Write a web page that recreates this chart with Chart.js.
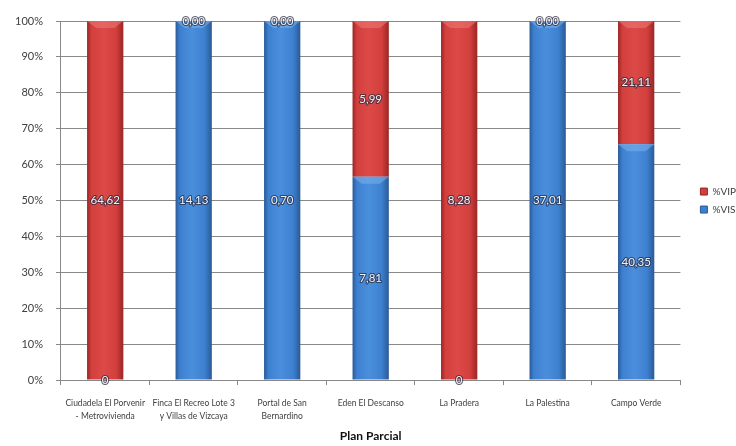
<!DOCTYPE html>
<html><head><meta charset="utf-8">
<script src="https://cdn.jsdelivr.net/npm/chart.js@4"></script>
<style>html,body{margin:0;padding:0;background:#fff}#wrap{width:736px;height:446px;position:relative}</style>
</head><body><div id="wrap"><canvas id="c"></canvas></div>
<script>
const categories = [["Ciudadela El Porvenir","- Metrovivienda"],["Finca El Recreo Lote 3","y Villas de Vizcaya"],["Portal de San","Bernardino"],"Eden El Descanso","La Pradera","La Palestina","Campo Verde"];
const visValues = [0, 14.13, 0.70, 7.81, 0, 37.01, 40.35];
const vipValues = [64.62, 0, 0, 5.99, 8.28, 0, 21.11];
const visText = ["0","14,13","0,70","7,81","0","37,01","40,35"];
const vipText = ["64,62","0,00","0,00","5,99","8,28","0,00","21,11"];
const seriesNames = ["%VIS","%VIP"];
const axisTitle = "Plan Parcial";

const visPct = visValues.map((v,i)=> v/(v+vipValues[i])*100);
const vipPct = vipValues.map((v,i)=> v/(visValues[i]+v)*100);

const FONT = "Lato, 'Open Sans', sans-serif";
const BAR_PCT = 0.41;
const palette = {
  "%VIS": {edge:"#2a5a96", mid:"#3d80d0", hi:"#4a8fdc", light:"#7ab3ee"},
  "%VIP": {edge:"#9a2624", mid:"#d23f3d", hi:"#dc4a47", light:"#ee7a76"}
};

function barFill(ctx){
  const chart = ctx.chart;
  const p = palette[ctx.dataset.label];
  const xs = chart.scales.x;
  if (!chart.chartArea || !xs || ctx.dataIndex === undefined) return p.mid;
  const cx = xs.getPixelForValue(ctx.dataIndex);
  const w = chart.chartArea.width / categories.length * BAR_PCT;
  if (!isFinite(cx) || !isFinite(w)) return p.mid;
  const l = cx - w/2;
  const g = chart.ctx.createLinearGradient(l,0,l+w,0);
  g.addColorStop(0,p.edge); g.addColorStop(0.12,p.mid); g.addColorStop(0.45,p.hi); g.addColorStop(0.8,p.mid); g.addColorStop(1,p.edge);
  return g;
}

const bevelPlugin = {
  id:"bevel",
  afterDatasetsDraw(chart){
    const ctx = chart.ctx;
    chart.data.datasets.forEach((ds,di)=>{
      const meta = chart.getDatasetMeta(di);
      const p = palette[ds.label];
      meta.data.forEach(el=>{
        const h = Math.abs(el.base - el.y);
        if (h < 10) return;
        const w = el.width, l = el.x - w/2, t = Math.min(el.y, el.base);
        ctx.save();
        ctx.fillStyle = p.light; ctx.globalAlpha = 0.55;
        ctx.beginPath();
        ctx.moveTo(l,t); ctx.lineTo(l+w,t); ctx.lineTo(l+w-9,t+7); ctx.lineTo(l+9,t+7); ctx.closePath();
        ctx.fill();
        ctx.restore();
      });
    });
  }
};

const labelPlugin = {
  id:"vals",
  afterDatasetsDraw(chart){
    const ctx = chart.ctx;
    const texts = [visText, vipText];
    chart.data.datasets.forEach((ds,di)=>{
      const meta = chart.getDatasetMeta(di);
      meta.data.forEach((el,i)=>{
        const cy = (el.y + el.base)/2;
        ctx.save();
        ctx.font = "11.5px " + FONT;
        ctx.textAlign = "center"; ctx.textBaseline = "middle";
        ctx.lineWidth = 2.2; ctx.strokeStyle = "rgba(40,40,60,0.7)";
        ctx.lineJoin = "round";
        ctx.strokeText(texts[di][i], el.x, cy);
        ctx.fillStyle = "#eef2f8";
        ctx.fillText(texts[di][i], el.x, cy);
        ctx.restore();
      });
    });
  }
};

const legendShift = {
  id:"legendShift",
  afterLayout(chart){
    const lg = chart.legend, ca = chart.chartArea;
    if (!lg || !ca) return;
    const dy = (ca.top + ca.bottom)/2 - (lg.top + lg.bottom)/2;
    lg.top += dy; lg.bottom += dy;
    lg.left += 12; lg.right += 12;
  }
};

new Chart(document.getElementById("c"), {
  type:"bar",
  data:{
    labels: categories,
    datasets:[
      {label: seriesNames[0], data: visPct, backgroundColor: barFill, borderWidth:0},
      {label: seriesNames[1], data: vipPct, backgroundColor: barFill, borderWidth:0}
    ]
  },
  options:{
    responsive:true, maintainAspectRatio:false, animation:false,
    layout:{padding:{top:21,left:2,right:2,bottom:1}},
    datasets:{bar:{categoryPercentage:1, barPercentage:BAR_PCT}},
    plugins:{
      legend:{position:"right", reverse:true,
        labels:{boxWidth:7, boxHeight:7, padding:8, color:"#404040", font:{size:10, family:FONT},
          generateLabels(chart){
            return chart.data.datasets.map((ds,i)=>({text:ds.label, fillStyle:palette[ds.label].mid, strokeStyle:palette[ds.label].edge, lineWidth:1, datasetIndex:i, fontColor:"#404040"}));
          }}},
      tooltip:{enabled:false}
    },
    scales:{
      x:{stacked:true,
        grid:{drawOnChartArea:false, drawTicks:true, tickLength:5, color:"#888", offset:true},
        border:{color:"#888"},
        ticks:{color:"#404040", font:{size:8.5, family:FONT, lineHeight:1.5}, maxRotation:0, autoSkip:false, padding:12},
        title:{display:true, text:axisTitle, color:"#111", font:{size:12, weight:"bold", family:FONT}, padding:{top:-6,bottom:2}}
      },
      y:{stacked:true, min:0, max:100,
        grid:{color:"#888", tickLength:5},
        border:{color:"#888"},
        ticks:{stepSize:10, color:"#404040", font:{size:11, family:FONT}, padding:13, callback:v=>v+"%"}
      }
    }
  },
  plugins:[bevelPlugin, labelPlugin, legendShift]
});
</script></body></html>
